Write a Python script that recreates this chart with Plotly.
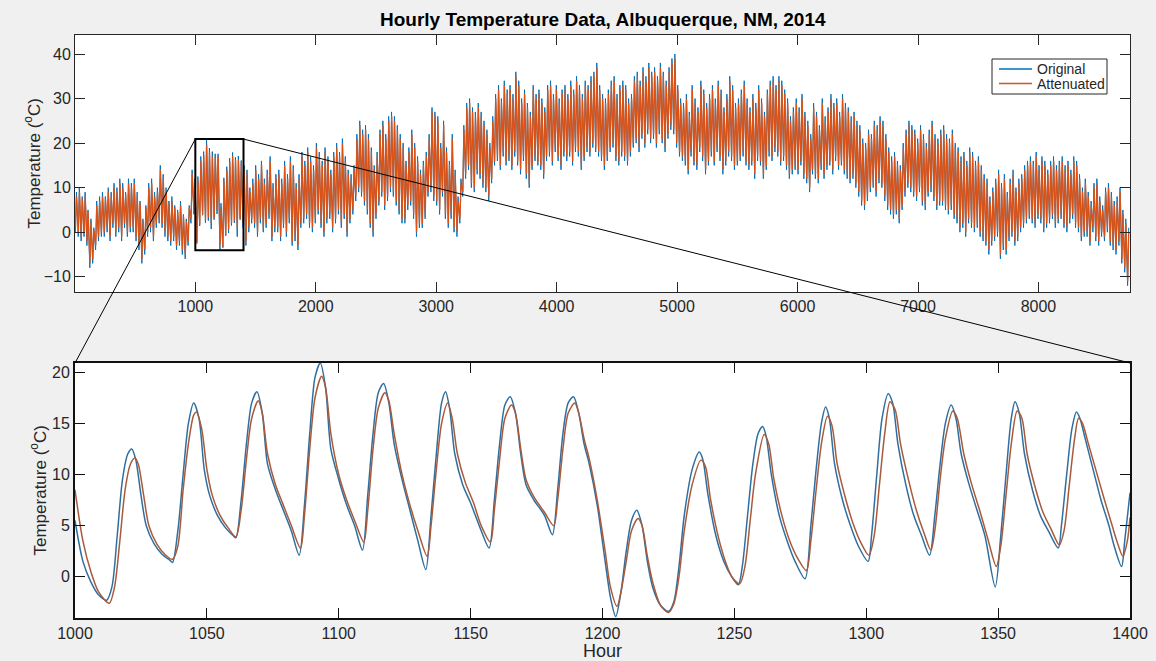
import plotly.graph_objects as go

# ---------------- data ----------------
# Top panel: daily low / high temperature (deg C) for the 365 days of 2014
DAILY_HIGH = [
    9, 10, 8, 9, 5, 3, 1, 7, 8, 9,
    8, 10, 9, 11, 10, 12, 11, 9, 12, 11,
    12, 9, 7, 3, 6, 11, 12, 9, 10, 15,
    13, 10, 7, 8, 6, 5, 7, 4, 3, 6,
    14, 12, 12.5, 17.0, 18.1, 20.9, 18.9, 18.1, 17.6, 17.6,
    6.5, 12.2, 14.7, 16.6, 17.9, 16.8, 17.1, 16.1, 15, 14,
    10, 12, 15, 13, 16, 12, 14, 17, 11, 13,
    14, 12, 16, 13, 17, 15, 11, 13, 18, 16,
    19, 17, 15, 20, 18, 16, 19, 17, 14, 18,
    20, 18, 21, 17, 14, 13, 15, 22, 25, 23,
    24, 22, 19, 15, 18, 23, 25, 22, 26, 27,
    26, 24, 22, 20, 16, 19, 23, 20, 17, 14,
    16, 18, 22, 28, 27, 26, 20, 25, 19, 16,
    22, 14, 8, 12, 24, 29, 30, 28, 27, 29,
    27, 25, 23, 20, 26, 31, 33, 30, 34, 32,
    33, 31, 36, 34, 30, 32, 29, 27, 33, 31,
    32, 30, 28, 33, 34, 31, 33, 30, 32, 33,
    31, 34, 32, 35, 33, 31, 34, 33, 35, 36,
    38, 33, 31, 30, 32, 34, 35, 31, 33, 34,
    33, 30, 31, 35, 36, 34, 37, 35, 38, 36,
    37, 35, 38, 36, 34, 37, 39, 40, 33, 30,
    29, 31, 27, 33, 30, 28, 34, 32, 29, 31,
    33, 30, 34, 32, 28, 31, 35, 33, 29, 30,
    32, 34, 30, 28, 31, 29, 33, 30, 27, 32,
    34, 35, 33, 35, 34, 32, 30, 26, 28, 30,
    28, 31, 27, 25, 22, 29, 27, 24, 30, 26,
    28, 31, 29, 30, 27, 31, 29, 28, 26, 27,
    25, 24, 21, 20, 23, 22, 25, 24, 26, 25,
    22, 19, 17, 18, 16, 15, 20, 23, 25, 24,
    23, 21, 24, 22, 20, 23, 25, 22, 21, 23,
    24, 22, 21, 23, 20, 19, 17, 18, 16, 19,
    18, 16, 17, 15, 13, 12, 8, 10, 12, 14,
    11, 13, 9, 12, 14, 10, 12, 13, 15, 16,
    17, 16, 18, 15, 17, 16, 14, 16, 17, 15,
    16, 17, 15, 16, 14, 17, 16, 13, 10, 12,
    9, 7, 11, 12, 8, 6, 10, 11, 9, 7,
    8, 10, 5, 3, 1,
]
DAILY_LOW = [
    0, -1, -2, -1, -3, -8, -7, -4, -2, -1,
    -1, 0, -2, 1, -1, 0, -2, 1, -1, 0,
    0, -2, -4, -7, -5, -1, 0, -2, 1, 2,
    1, -1, -2, -3, -2, -4, -3, -5, -6, -3,
    2, 4, -2.3, 1.4, 3.8, 2.1, 2.6, 0.7, 2.8, 4.1,
    -3.9, -3.4, -0.8, -0.2, 1.5, 2.1, -1.0, 2.8, 1.0, -3,
    0, 2, 1, -1, 2, 0, 1, 3, -2, 0,
    0, -2, 1, -1, 2, -3, -2, -4, 1, 2,
    3, 1, 0, 2, 4, 1, -1, 2, 3, 0,
    2, 4, 1, 3, -1, 2, 4, 7, 9, 8,
    6, 4, 1, -1, 3, 6, 8, 5, 7, 9,
    8, 6, 4, 2, 2, 5, 6, 3, -1, 1,
    1, 3, 8, 9, 7, 6, 4, 8, 3, 1,
    3, 0, -1, 2, 8, 12, 14, 10, 9, 13,
    12, 10, 9, 7, 11, 15, 16, 14, 17, 15,
    16, 14, 17, 15, 13, 16, 12, 10, 14, 16,
    15, 14, 12, 16, 17, 15, 18, 16, 14, 17,
    16, 17, 15, 18, 17, 14, 16, 18, 17, 19,
    18, 17, 16, 14, 16, 18, 19, 16, 15, 17,
    16, 15, 17, 19, 20, 18, 21, 19, 22, 20,
    21, 19, 22, 20, 18, 21, 23, 22, 19, 17,
    16, 15, 13, 17, 15, 14, 18, 16, 13, 15,
    17, 15, 18, 16, 13, 15, 17, 16, 14, 15,
    16, 17, 15, 14, 15, 12, 16, 15, 12, 14,
    17, 16, 18, 17, 15, 16, 14, 12, 13, 14,
    13, 15, 12, 11, 9, 13, 12, 11, 14, 12,
    14, 15, 13, 16, 14, 15, 13, 12, 11, 12,
    10, 8, 6, 5, 7, 9, 10, 8, 11, 10,
    7, 5, 4, 3, 4, 2, 5, 8, 10, 9,
    8, 7, 9, 6, 5, 8, 9, 7, 5, 6,
    6, 5, 4, 5, 3, 2, 0, 1, -1, 2,
    1, 0, 1, -1, -2, -3, -5, -3, -2, -1,
    -6, -4, -5, -2, -1, -3, -2, 0, 1, 2,
    3, 2, 1, 3, 2, 0, 1, 2, 3, 1,
    2, 3, 1, 0, 2, 3, 1, 0, -2, -1,
    -1, -3, 0, -2, -3, -1, -2, 0, -3, -4,
    -5, -3, -7, -9, -12,
]
ATT_DAILY_HIGH = [
    8, 9, 7.5, 8, 4.5, 2.5, 0.5, 6, 7, 8,
    7.5, 9, 8, 10, 9, 11, 10, 8.5, 11, 10,
    11, 8, 6.5, 2.5, 5.5, 10, 11, 8, 9, 14,
    12, 9, 6.5, 7, 5.5, 4.5, 6, 3.5, 2.5, 5.5,
    13, 11, 11.6, 16.1, 17.2, 19.6, 18.0, 17.0, 16.8, 17.0,
    5.7, 11.4, 13.9, 15.7, 17.1, 16.2, 16.2, 15.5, 14, 13,
    9, 11, 14, 12, 15, 11, 13, 16, 10, 12,
    13, 11, 15, 12, 16, 14, 10, 12, 17, 15,
    18, 16, 14, 19, 17, 15, 18, 16, 13, 17,
    19, 17, 20, 16, 13, 12, 14, 21, 24, 22,
    23, 21, 18, 14, 17, 22, 24, 21, 25, 26,
    25, 23, 21, 19, 15, 18, 22, 19, 16, 13,
    15, 17, 21, 27, 26, 25, 19, 24, 18, 15,
    21, 13, 7, 11, 23, 28, 29, 27, 26, 28,
    26, 24, 22, 19, 25, 30, 32, 29, 33, 31,
    32, 30, 35, 33, 29, 31, 28, 26, 32, 30,
    31, 29, 27, 32, 33, 30, 32, 29, 31, 32,
    30, 33, 31, 34, 32, 30, 33, 32, 34, 35,
    37, 32, 30, 29, 31, 33, 34, 30, 32, 33,
    32, 29, 30, 34, 35, 33, 36, 34, 37, 35,
    36, 34, 37, 35, 33, 36, 38, 39, 32, 29,
    28, 30, 26, 32, 29, 27, 33, 31, 28, 30,
    32, 29, 33, 31, 27, 30, 34, 32, 28, 29,
    31, 33, 29, 27, 30, 28, 32, 29, 26, 31,
    33, 34, 32, 34, 33, 31, 29, 25, 27, 29,
    27, 30, 26, 24, 21, 28, 26, 23, 29, 25,
    27, 30, 28, 29, 26, 30, 28, 27, 25, 26,
    24, 23, 20, 19, 22, 21, 24, 23, 25, 24,
    21, 18, 16, 17, 15, 14, 19, 22, 24, 23,
    22, 20, 23, 21, 19, 22, 24, 21, 20, 22,
    23, 21, 20, 22, 19, 18, 16, 17, 15, 18,
    17, 15, 16, 14, 12, 11, 7, 9, 11, 13,
    10, 12, 8, 11, 13, 9, 11, 12, 14, 15,
    16, 15, 17, 14, 16, 15, 13, 15, 16, 14,
    15, 16, 14, 15, 13, 16, 15, 12, 9, 11,
    8, 6, 10, 11, 7, 5, 9, 10, 8, 6,
    7, 9, 4, 2, 0,
]
ATT_DAILY_LOW = [
    1, 0, -1, 0, -2, -7, -6, -3, -1, 0,
    0, 1, -1, 2, 0, 1, -1, 2, 0, 1,
    1, -1, -3, -6, -4, 0, 1, -1, 2, 3,
    2, 0, -1, -2, -1, -3, -2, -4, -5, -2,
    3, 5, -2.6, 1.7, 3.9, 2.8, 3.4, 2.0, 3.4, 5.0,
    -2.9, -3.5, -0.7, 0.6, 2.1, 2.6, 1.0, 3.1, 2.0, -2,
    1, 3, 2, 0, 3, 1, 2, 4, -1, 1,
    1, -1, 2, 0, 3, -2, -1, -3, 2, 3,
    4, 2, 1, 3, 5, 2, 0, 3, 4, 1,
    3, 5, 2, 4, 0, 3, 5, 8, 10, 9,
    7, 5, 2, 0, 4, 7, 9, 6, 8, 10,
    9, 7, 5, 3, 3, 6, 7, 4, 0, 2,
    2, 4, 9, 10, 8, 7, 5, 9, 4, 2,
    4, 1, 0, 3, 9, 13, 15, 11, 10, 14,
    13, 11, 10, 8, 12, 16, 17, 15, 18, 16,
    17, 15, 18, 16, 14, 17, 13, 11, 15, 17,
    16, 15, 13, 17, 18, 16, 19, 17, 15, 18,
    17, 18, 16, 19, 18, 15, 17, 19, 18, 20,
    19, 18, 17, 15, 17, 19, 20, 17, 16, 18,
    17, 16, 18, 20, 21, 19, 22, 20, 23, 21,
    22, 20, 23, 21, 19, 22, 24, 23, 20, 18,
    17, 16, 14, 18, 16, 15, 19, 17, 14, 16,
    18, 16, 19, 17, 14, 16, 18, 17, 15, 16,
    17, 18, 16, 15, 16, 13, 17, 16, 13, 15,
    18, 17, 19, 18, 16, 17, 15, 13, 14, 15,
    14, 16, 13, 12, 10, 14, 13, 12, 15, 13,
    15, 16, 14, 17, 15, 16, 14, 13, 12, 13,
    11, 9, 7, 6, 8, 10, 11, 9, 12, 11,
    8, 6, 5, 4, 5, 3, 6, 9, 11, 10,
    9, 8, 10, 7, 6, 9, 10, 8, 6, 7,
    7, 6, 5, 6, 4, 3, 1, 2, 0, 3,
    2, 1, 2, 0, -1, -2, -4, -2, -1, 0,
    -5, -3, -4, -1, 0, -2, -1, 1, 2, 3,
    4, 3, 2, 4, 3, 1, 2, 3, 4, 2,
    3, 4, 2, 1, 3, 4, 2, 1, -1, 0,
    0, -2, 1, -1, -2, 0, -1, 1, -2, -3,
    -4, -2, -6, -8, -11,
]
# hour-of-day at which the daily low / high occur
LOW_HOUR, HIGH_HOUR = 4, 13
ATT_LOW_HOUR, ATT_HIGH_HOUR = 5, 14

# Bottom panel: hours 1000-1400 in detail
ORIG_HOUR = [1000, 1003, 1006, 1009, 1012, 1014, 1016, 1018, 1020, 1021.5, 1023, 1025, 1027, 1030, 1033, 1036,
             1037, 1039, 1041, 1043, 1045, 1047, 1049, 1051, 1054, 1057, 1060, 1061, 1063, 1065, 1067, 1069,
             1071, 1073, 1076, 1079, 1082, 1085, 1087, 1089, 1091, 1093, 1095, 1097, 1100, 1103, 1106, 1109,
             1111, 1113, 1115, 1117, 1119, 1121, 1124, 1127, 1130, 1133, 1135, 1137, 1139, 1140.5, 1142, 1144,
             1147, 1150, 1154, 1157, 1159, 1161, 1163, 1165, 1167, 1169, 1171, 1174, 1178, 1181, 1183, 1185,
             1187, 1189, 1191, 1193, 1195, 1198, 1201, 1203, 1205, 1207, 1209, 1211, 1213, 1215, 1217, 1219,
             1222, 1225, 1227, 1229, 1231, 1234, 1236.7, 1238, 1240, 1243, 1246, 1249, 1251.5, 1253, 1255, 1257,
             1259, 1260.7, 1262, 1264, 1267, 1270, 1273, 1276.8, 1279, 1281, 1283, 1284.6, 1286, 1288, 1291, 1294,
             1297, 1300.7, 1302, 1304, 1306, 1308.3, 1310, 1312, 1315, 1318, 1321, 1324, 1326, 1328, 1330, 1332.2,
             1334, 1336, 1339, 1342, 1345, 1348.9, 1351, 1353, 1355, 1356.4, 1358, 1360, 1363, 1366, 1369, 1372.8,
             1374, 1376, 1378, 1379.7, 1381, 1383, 1386, 1389, 1392, 1394, 1396.8, 1398, 1400]
ORIG_TEMP = [5.5, 1.5, -0.5, -1.8, -2.3, -1.0, 4.0, 9.5, 12.0, 12.5, 11.5, 8.0, 5.0, 3.2, 2.2, 1.6,
             1.4, 4.5, 10.0, 15.0, 17.0, 15.5, 10.5, 8.0, 6.0, 4.8, 4.0, 3.8, 7.5, 13.0, 17.0, 18.1,
             16.0, 11.0, 8.5, 6.5, 4.5, 2.1, 7.0, 14.0, 19.5, 20.9, 18.5, 12.5, 9.5, 7.0, 5.0, 2.6,
             8.0, 14.0, 18.0, 18.9, 17.0, 13.0, 9.5, 6.5, 3.5, 0.7, 6.0, 12.0, 17.0, 18.1, 16.5, 12.0,
             9.0, 7.2, 4.5, 2.8, 7.5, 13.0, 16.8, 17.6, 16.0, 12.0, 9.0, 7.5, 6.0, 4.1, 8.5, 14.0,
             17.0, 17.6, 16.0, 13.0, 11.0, 7.0, 1.5, -2.0, -3.9, -1.5, 2.5, 5.5, 6.5, 5.0, 1.5, -1.0,
             -2.8, -3.4, -2.5, 1.0, 6.0, 10.5, 12.2, 11.5, 8.0, 4.0, 1.5, 0.0, -0.8, 1.0, 6.0, 11.0,
             14.0, 14.7, 13.8, 10.0, 6.0, 3.5, 1.5, -0.2, 5.0, 10.5, 15.0, 16.6, 15.5, 11.0, 7.5, 5.0,
             3.0, 1.5, 4.0, 10.0, 15.5, 17.9, 17.0, 13.0, 9.0, 6.0, 4.0, 2.1, 6.0, 11.0, 15.0, 16.8,
             15.5, 12.0, 9.0, 6.5, 4.0, -1.0, 4.0, 10.0, 15.5, 17.1, 16.0, 12.0, 8.5, 6.0, 4.5, 2.8,
             5.0, 10.0, 14.5, 16.1, 15.5, 13.5, 10.5, 7.5, 5.0, 3.0, 1.0, 3.5, 8.2]
ATT_HOUR = [1000, 1003, 1006, 1009, 1013, 1015, 1017, 1019, 1021, 1022.7, 1024, 1026, 1028, 1031, 1034, 1037,
            1039, 1041, 1043, 1045, 1046, 1048, 1050, 1052, 1055, 1058, 1061, 1063, 1065, 1067, 1069.5, 1071,
            1073, 1076, 1079, 1082, 1085.5, 1087, 1089, 1091, 1093.5, 1095, 1097, 1100, 1103, 1106, 1109.5, 1111,
            1113, 1115, 1117.5, 1119, 1121, 1124, 1127, 1130, 1133.5, 1135, 1137, 1139, 1141.3, 1143, 1145, 1148,
            1151, 1154, 1157.5, 1159, 1161, 1163, 1165.5, 1167, 1169, 1171, 1174, 1178, 1181.5, 1183, 1185, 1187,
            1189.5, 1191, 1193, 1195, 1198, 1201, 1203, 1205.5, 1207, 1209, 1211, 1213.5, 1215, 1217, 1219, 1222,
            1225, 1227, 1229, 1231, 1234, 1237.3, 1239, 1241, 1244, 1247, 1249, 1252, 1254, 1256, 1258, 1261.3,
            1263, 1265, 1268, 1271, 1274, 1277.3, 1279, 1281, 1283, 1285.3, 1287, 1289, 1292, 1295, 1298, 1301,
            1303, 1305, 1307, 1309, 1311, 1313, 1316, 1319, 1322, 1324.5, 1326, 1328, 1330, 1332.8, 1334.5, 1337,
            1340, 1343, 1346, 1349.3, 1351, 1353, 1355, 1357.2, 1359, 1361, 1364, 1367, 1370, 1373.2, 1375, 1377,
            1379, 1380.5, 1382, 1384, 1387, 1390, 1393, 1395, 1397.3, 1399, 1400]
ATT_TEMP = [8.5, 3.5, 0.5, -1.5, -2.6, -1.0, 3.5, 8.5, 11.0, 11.6, 11.0, 8.0, 5.0, 3.2, 2.2, 1.7,
            3.0, 8.5, 13.0, 15.8, 16.1, 14.5, 10.5, 8.0, 6.0, 4.8, 3.9, 6.5, 11.5, 15.5, 17.2, 16.0,
            12.0, 9.0, 7.0, 5.0, 2.8, 6.0, 12.5, 17.5, 19.6, 18.5, 14.0, 10.0, 7.5, 5.5, 3.4, 6.5,
            12.5, 16.5, 18.0, 17.2, 14.0, 10.0, 7.0, 4.5, 2.0, 5.0, 10.5, 15.0, 17.0, 15.5, 12.0, 9.2,
            7.3, 5.0, 3.4, 6.5, 11.5, 15.5, 16.8, 16.0, 12.5, 9.5, 7.8, 6.3, 5.0, 7.5, 12.5, 16.0,
            17.0, 16.0, 13.5, 11.5, 7.5, 2.5, -1.0, -2.9, -1.5, 1.5, 4.5, 5.7, 5.0, 2.0, -0.5, -2.8,
            -3.5, -2.7, 0.0, 4.5, 9.0, 11.4, 10.8, 7.5, 3.8, 1.2, 0.0, -0.7, 1.0, 5.5, 10.0, 13.9,
            13.0, 9.5, 6.0, 3.5, 1.8, 0.6, 3.5, 8.5, 13.0, 15.7, 14.8, 11.0, 7.8, 5.2, 3.3, 2.1,
            4.0, 9.0, 14.0, 17.1, 16.3, 13.0, 9.5, 6.5, 4.2, 2.6, 4.5, 9.5, 13.5, 16.2, 15.5, 12.0,
            9.0, 6.5, 3.8, 1.0, 3.0, 8.0, 13.0, 16.2, 15.5, 12.0, 8.8, 6.3, 4.7, 3.1, 4.5, 9.0,
            13.5, 15.5, 15.0, 13.2, 10.5, 7.8, 5.2, 3.5, 2.0, 3.5, 5.8]

SERIES_NAMES = ["Original", "Attenuated"]
TITLE = "Hourly Temperature Data, Albuquerque, NM, 2014"
YLABEL = "Temperature (<sup>o</sup>C)"
XLABEL = "Hour"
TOP_XTICKS = [1000, 2000, 3000, 4000, 5000, 6000, 7000, 8000]
TOP_YTICKS = [-10, 0, 10, 20, 30, 40]
BOT_XTICKS = [1000, 1050, 1100, 1150, 1200, 1250, 1300, 1350, 1400]
BOT_YTICKS = [0, 5, 10, 15, 20]
ZOOM_START, ZOOM_END = 1000, 1400

# ---------------- layout constants ----------------
W, H = 1156, 661
BLUE, ORANGE = "#0072BD", "#D95319"
BLUE_B, ORANGE_B = "#2f6f9f", "#a85a3c"   # bottom panel (rendered darker in the reference)
TXT = "#262626"
FONT = "Liberation Sans"

X_DOM = [75 / W, 1130 / W]
TOP_DOM = [1 - 292 / H, 1 - 35 / H]
BOT_DOM = [1 - 618 / H, 1 - 363 / H]
TOP_XR = [1, 8760]
TOP_YR = [-13.43, 44.27]
BOT_XR = [ZOOM_START, ZOOM_END]
BOT_YR = [-4.04, 20.9]


def day_points(lows, highs, lo_h, hi_h):
    xs, ys = [], []
    for d, (lo, hi) in enumerate(zip(lows, highs)):
        xs += [d * 24 + lo_h, d * 24 + hi_h]
        ys += [lo, hi]
    return xs, ys


ox, oy = day_points(DAILY_LOW, DAILY_HIGH, LOW_HOUR, HIGH_HOUR)
ax_, ay_ = day_points(ATT_DAILY_LOW, ATT_DAILY_HIGH, ATT_LOW_HOUR, ATT_HIGH_HOUR)

fig = go.Figure()
fig.add_trace(go.Scatter(x=ox, y=oy, mode="lines", name=SERIES_NAMES[0],
                         line=dict(color=BLUE, width=1), xaxis="x", yaxis="y"))
fig.add_trace(go.Scatter(x=ax_, y=ay_, mode="lines", name=SERIES_NAMES[1],
                         line=dict(color=ORANGE, width=1.3), xaxis="x", yaxis="y"))
fig.add_trace(go.Scatter(x=ORIG_HOUR, y=ORIG_TEMP, mode="lines", name=SERIES_NAMES[0],
                         line=dict(color=BLUE_B, width=1.5, shape="spline", smoothing=0.8),
                         xaxis="x2", yaxis="y2"))
fig.add_trace(go.Scatter(x=ATT_HOUR, y=ATT_TEMP, mode="lines", name=SERIES_NAMES[1],
                         line=dict(color=ORANGE_B, width=1.5, shape="spline", smoothing=0.8),
                         xaxis="x2", yaxis="y2"))

tickfont = dict(family=FONT, size=16, color=TXT)


def axis(dom, rng, ticks, anchor, lw, lc):
    return dict(domain=dom, range=rng, tickvals=ticks, anchor=anchor, showgrid=False,
                zeroline=False, showline=True, linecolor=lc, linewidth=lw, mirror="allticks",
                ticks="inside", ticklen=10, tickcolor=lc, tickwidth=1, tickfont=tickfont,
                automargin=False, fixedrange=True)


fig.update_layout(
    width=W, height=H,
    paper_bgcolor="#f0f0f0", plot_bgcolor="white",
    margin=dict(l=0, r=0, t=0, b=0, autoexpand=False),
    xaxis=axis(X_DOM, TOP_XR, TOP_XTICKS, "y", 1, TXT),
    yaxis=axis(TOP_DOM, TOP_YR, TOP_YTICKS, "x", 1, TXT),
    xaxis2=axis(X_DOM, BOT_XR, BOT_XTICKS, "y2", 2, "#111111"),
    yaxis2=axis(BOT_DOM, BOT_YR, BOT_YTICKS, "x2", 2, "#111111"),
    showlegend=False,
)


def to_paper(v, rng, dom):
    return dom[0] + (v - rng[0]) / (rng[1] - rng[0]) * (dom[1] - dom[0])


# zoom rectangle on the top panel
fig.add_shape(type="rect", xref="x", yref="y", x0=ZOOM_START, x1=ZOOM_END,
              y0=BOT_YR[0], y1=BOT_YR[1], line=dict(color="black", width=2), layer="above")
# connector lines from rectangle to the bottom axes
rx0 = to_paper(ZOOM_START, TOP_XR, X_DOM)
rx1 = to_paper(ZOOM_END, TOP_XR, X_DOM)
ry = to_paper(BOT_YR[1], TOP_YR, TOP_DOM)
for rx, bx in [(rx0, X_DOM[0]), (rx1, X_DOM[1])]:
    fig.add_shape(type="line", xref="paper", yref="paper", x0=rx, y0=ry, x1=bx, y1=BOT_DOM[1],
                  line=dict(color="black", width=1), layer="above")

# legend box (MATLAB style, compact)
LEG_X0, LEG_X1, LEG_Y0, LEG_Y1 = 992 / W, 1107 / W, 1 - 94 / H, 1 - 59 / H
fig.add_shape(type="rect", xref="paper", yref="paper", x0=LEG_X0, x1=LEG_X1, y0=LEG_Y0, y1=LEG_Y1,
              fillcolor="white", line=dict(color=TXT, width=1), layer="above")
for i, (name, col) in enumerate(zip(SERIES_NAMES, [BLUE, ORANGE])):
    yy = 1 - (69 + 14.5 * i) / H
    fig.add_shape(type="line", xref="paper", yref="paper", x0=999 / W, x1=1032 / W, y0=yy, y1=yy,
                  line=dict(color=col, width=1.3), layer="above")
    fig.add_annotation(text=name, xref="paper", yref="paper", x=1035 / W, y=yy, showarrow=False,
                       xanchor="left", yanchor="middle", font=dict(family=FONT, size=14, color=TXT))

# titles
fig.add_annotation(text="<b>" + TITLE + "</b>", xref="paper", yref="paper",
                   x=sum(X_DOM) / 2, y=1 - 20 / H, showarrow=False,
                   font=dict(family=FONT, size=19, color="black"), xanchor="center", yanchor="middle")
fig.add_annotation(text=YLABEL, xref="paper", yref="paper", x=33 / W, y=sum(TOP_DOM) / 2,
                   textangle=-90, showarrow=False, font=dict(family=FONT, size=17, color=TXT),
                   xanchor="center", yanchor="middle")
fig.add_annotation(text=YLABEL, xref="paper", yref="paper", x=38 / W, y=sum(BOT_DOM) / 2,
                   textangle=-90, showarrow=False, font=dict(family=FONT, size=17, color=TXT),
                   xanchor="center", yanchor="middle")
fig.add_annotation(text=XLABEL, xref="paper", yref="paper", x=sum(X_DOM) / 2, y=1 - 651 / H,
                   showarrow=False, font=dict(family=FONT, size=18, color=TXT),
                   xanchor="center", yanchor="middle")

fig.write_html("out.html")
